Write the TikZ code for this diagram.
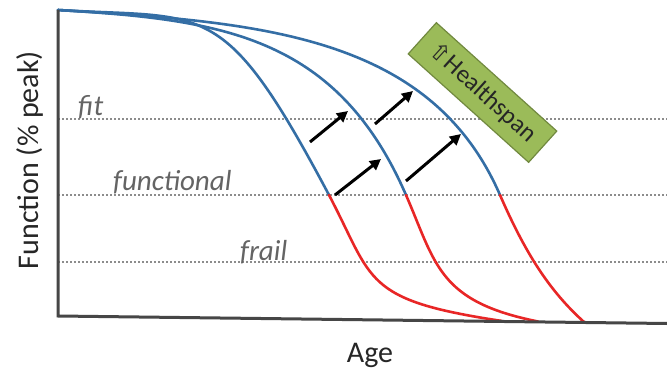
\documentclass[tikz,border=0pt]{standalone}
\usepackage{fontspec}
\setmainfont{Carlito}
\newfontfamily\symfont{DejaVu Sans}
\usetikzlibrary{arrows.meta}
\definecolor{curveblue}{RGB}{52,110,165}
\definecolor{curvered}{RGB}{232,38,38}
\definecolor{axisgray}{RGB}{70,70,70}
\definecolor{dotgray}{RGB}{140,140,140}
\definecolor{labgray}{RGB}{100,100,100}
\definecolor{boxgreen}{RGB}{155,187,89}
\definecolor{boxedge}{RGB}{113,137,63}
\begin{document}
\begin{tikzpicture}[x=1pt,y=-1pt,
  blueline/.style={curveblue, line width=2.6pt, line cap=round},
  redline/.style={curvered, line width=2.6pt, line cap=round},
  levelline/.style={dotgray, line width=2pt, dash pattern=on 2pt off 2pt},
  axisline/.style={axisgray, line width=3pt},
  levellabel/.style={labgray, font=\fontsize{29}{34}\selectfont\itshape, anchor=base west, inner sep=0pt},
  shiftarrow/.style={black, line width=3pt, -{Triangle[length=11pt,width=11pt]}},
  axislabel/.style={black!85, font=\fontsize{30}{36}\selectfont, inner sep=0pt, anchor=base}]
\useasboundingbox (0,0) rectangle (667,369);
\fill[white] (0,0) rectangle (667,369);

% level lines
\coordinate (fitL) at (58,119);  \coordinate (fitR) at (667,119);
\coordinate (funL) at (58,195);  \coordinate (funR) at (667,195);
\coordinate (frL)  at (58,262);  \coordinate (frR)  at (667,262);
\draw[levelline] (fitL) -- (fitR);
\draw[levelline] (funL) -- (funR);
\draw[levelline] (frL) -- (frR);

% level labels
\node[levellabel] (fitlab) at (78,115) {fit};
\node[levellabel] (funlab) at (113,190) {functional};
\node[levellabel] (frlab) at (240,260) {frail};

% junction points
\coordinate (start) at (58,10);
\coordinate (j1) at (329,195);
\coordinate (j2) at (406,195);
\coordinate (j3) at (500,195);
\coordinate (e1) at (502,321);
\coordinate (e2) at (538,321.5);
\coordinate (e3) at (584,322);

% blue curves
\draw[blueline] (start) .. controls (208,19) and (223,-4.5) .. (j1);
\draw[blueline] (start) .. controls (218,19.6) and (336,34) .. (j2);
\draw[blueline] (start) .. controls (258,22) and (430,34) .. (j3);

% red curves
\draw[redline] (j1) .. controls (374,280.5) and (362,300) .. (e1);
\draw[redline] (j2) .. controls (436,264) and (438,301.5) .. (e2);
\draw[redline] (j3) .. controls (525,252.5) and (549,290.5) .. (e3);

% axes
\coordinate (ytop) at (58,10);
\coordinate (origin) at (58,316);
\coordinate (xend) at (667,323.5);
\draw[axisline] (ytop) -- (origin) -- (xend);

% shift arrows
\coordinate (a1s) at (310,142); \coordinate (a1e) at (348,111);
\coordinate (a2s) at (375,124); \coordinate (a2e) at (413,91);
\coordinate (a3s) at (335,195); \coordinate (a3e) at (381,159);
\coordinate (a4s) at (406,181); \coordinate (a4e) at (461,134);
\draw[shiftarrow] (a1s) -- (a1e);
\draw[shiftarrow] (a2s) -- (a2e);
\draw[shiftarrow] (a3s) -- (a3e);
\draw[shiftarrow] (a4s) -- (a4e);

% healthspan box
\node[draw=boxedge, fill=boxgreen, line width=1.2pt, rotate=-42,
      minimum width=162pt, minimum height=42pt, inner sep=0pt,
      font=\fontsize{25}{30}\selectfont, text=black!85] (hs) at (482.5,92.5)
      {{\symfont\fontsize{24}{28}\selectfont ⇧}Healthspan};

% axis labels
\node[axislabel] (xlab) at (370,362) {Age};
\node[axislabel, rotate=90] (ylab) at (38,160) {Function (\% peak)};
\end{tikzpicture}
\end{document}
